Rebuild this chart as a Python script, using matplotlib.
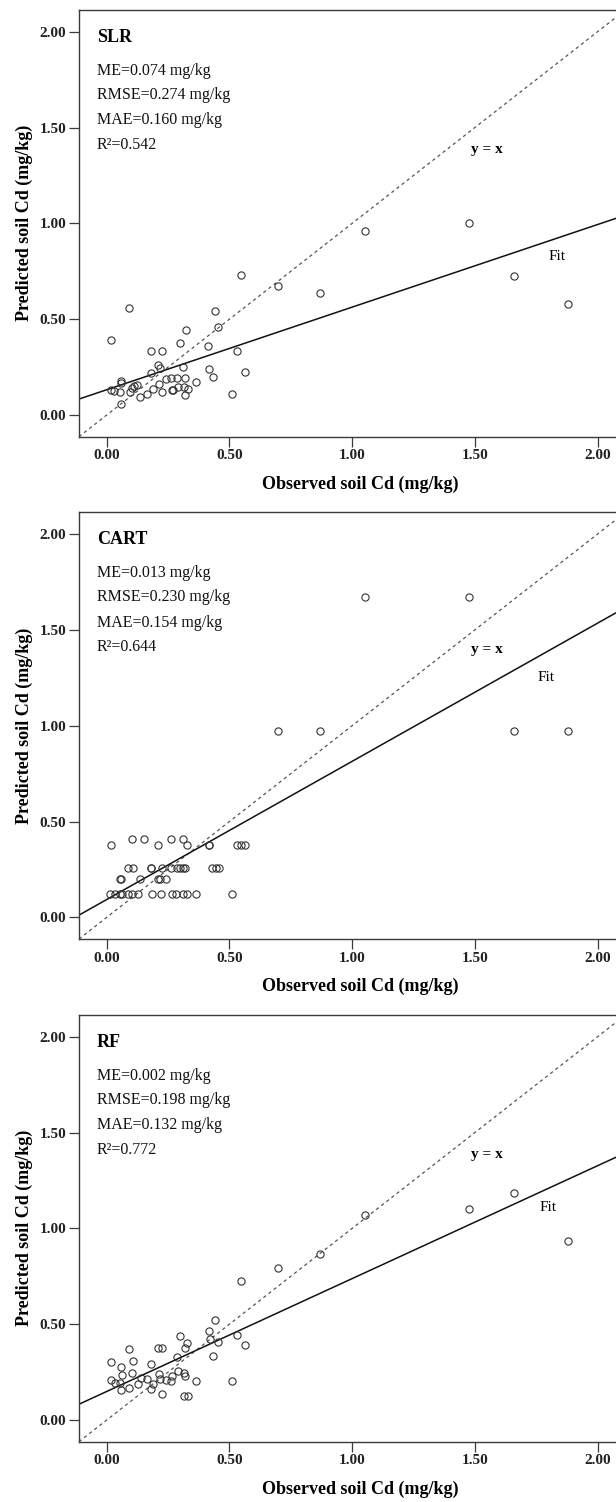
import numpy as np
import matplotlib
matplotlib.use('Agg')
import matplotlib.pyplot as plt

plt.rcParams['font.family'] = ['Liberation Serif', 'DejaVu Serif']

# model names and validation statistics
models = ['SLR', 'CART', 'RF']
me = ['0.074', '0.013', '0.002']
rmse = ['0.274', '0.230', '0.198']
mae = ['0.160', '0.154', '0.132']
r2 = ['0.542', '0.644', '0.772']

# fitted lines (intercept, slope)
fit_b = [0.132, 0.093, 0.149]
fit_m = [0.431, 0.721, 0.589]

# SLR panel
obs_slr = [0.547, 0.696, 0.091, 0.441, 0.455, 0.324, 0.018, 0.297, 0.414, 0.531,
           0.180, 0.225, 0.208, 0.217, 0.312, 0.180, 0.418, 0.433, 0.563, 0.362,
           0.240, 0.262, 0.288, 0.319, 0.213, 0.224, 0.265, 0.271, 0.292, 0.314,
           0.319, 0.333, 0.190, 0.163, 0.137, 0.509, 0.058, 0.057, 0.057, 0.054,
           0.018, 0.031, 0.095, 0.102, 0.112, 0.122, 0.869, 1.052, 1.476, 1.660,
           1.880]
pred_slr = [0.730, 0.675, 0.560, 0.543, 0.457, 0.442, 0.391, 0.376, 0.362, 0.336,
            0.334, 0.334, 0.261, 0.247, 0.252, 0.221, 0.238, 0.197, 0.224, 0.172,
            0.188, 0.191, 0.193, 0.193, 0.162, 0.120, 0.130, 0.130, 0.145, 0.148,
            0.104, 0.134, 0.136, 0.110, 0.096, 0.111, 0.057, 0.179, 0.165, 0.118,
            0.130, 0.127, 0.122, 0.139, 0.151, 0.157, 0.635, 0.961, 1.004, 0.724,
            0.578]

# CART panel
obs_cart = [0.013, 0.034, 0.054, 0.064, 0.088, 0.102, 0.126, 0.185, 0.222, 0.265,
            0.281, 0.312, 0.328, 0.362, 0.510,
            0.055, 0.057, 0.136, 0.210, 0.219, 0.240,
            0.085, 0.108, 0.180, 0.182, 0.227, 0.262, 0.285, 0.299, 0.312, 0.320,
            0.430, 0.445, 0.459,
            0.019, 0.208, 0.326, 0.415, 0.417, 0.530, 0.546, 0.563,
            0.104, 0.153, 0.260, 0.310,
            0.696, 0.869, 1.660, 1.880, 1.052, 1.476]
pred_cart = [0.12] * 15 + [0.20] * 6 + [0.26] * 13 + [0.38] * 8 + [0.41] * 4 + \
            [0.97] * 4 + [1.67] * 2

# RF panel
obs_rf = [0.019, 0.019, 0.032, 0.058, 0.062, 0.056, 0.058, 0.092, 0.092, 0.108,
          0.104, 0.126, 0.138, 0.163, 0.180, 0.187, 0.180, 0.208, 0.225, 0.214,
          0.217, 0.225, 0.240, 0.262, 0.268, 0.285, 0.290, 0.297, 0.314, 0.320,
          0.320, 0.326, 0.314, 0.330, 0.364, 0.415, 0.420, 0.432, 0.441, 0.455,
          0.530, 0.563, 0.512, 0.547, 0.696, 0.869, 1.052, 1.476, 1.660, 1.880]
pred_rf = [0.303, 0.207, 0.193, 0.278, 0.235, 0.193, 0.158, 0.369, 0.165, 0.310,
           0.245, 0.190, 0.217, 0.214, 0.292, 0.188, 0.162, 0.377, 0.377, 0.238,
           0.216, 0.136, 0.209, 0.204, 0.230, 0.330, 0.257, 0.438, 0.245, 0.230,
           0.375, 0.400, 0.125, 0.123, 0.202, 0.466, 0.424, 0.332, 0.522, 0.409,
           0.445, 0.391, 0.202, 0.727, 0.793, 0.866, 1.068, 1.103, 1.183, 0.934]

obs_all = [obs_slr, obs_cart, obs_rf]
pred_all = [pred_slr, pred_cart, pred_rf]

# label placement (data coords) for 'y = x' and 'Fit'
yx_pos = [(1.549, 1.383), (1.549, 1.397), (1.549, 1.388)]
fit_pos = [(1.836, 0.826), (1.790, 1.254), (1.800, 1.110)]

ticks = [0.0, 0.5, 1.0, 1.5, 2.0]
tick_labels = ['0.00', '0.50', '1.00', '1.50', '2.00']

fig = plt.figure(figsize=(6.16, 15.02), dpi=100)
bottoms = [0.70926, 0.37483, 0.04015]
spine_col = '#3a3a3a'

for i in range(3):
    ax = fig.add_axes([0.1282, bottoms[i], 0.8718, 0.2843])
    ax.set_xlim(-0.113, 2.075)
    ax.set_ylim(-0.113, 2.115)

    ax.axline((0, 0), slope=1, color='#555555', lw=0.9, ls=(0, (2.6, 2.6)))
    ax.axline((0, fit_b[i]), slope=fit_m[i], color='#111111', lw=1.1)
    ax.plot(obs_all[i], pred_all[i], 'o', ms=5.2, mfc='none', mec='#333333',
            mew=0.8, ls='none')

    ax.set_xticks(ticks)
    ax.set_xticklabels(tick_labels)
    ax.set_yticks(ticks)
    ax.set_yticklabels(tick_labels)
    ax.tick_params(direction='out', length=7, width=0.9, color=spine_col,
                   labelsize=11, pad=2)
    for lab in ax.get_xticklabels() + ax.get_yticklabels():
        lab.set_fontweight('bold')
        lab.set_color('#222222')
    ax.spines['right'].set_visible(False)
    for s in ['left', 'bottom', 'top']:
        ax.spines[s].set_color(spine_col)
        ax.spines[s].set_linewidth(1.0)

    ax.set_xlabel('Observed soil Cd (mg/kg)', fontsize=13, fontweight='bold')
    ax.set_ylabel('Predicted soil Cd (mg/kg)', fontsize=13, fontweight='bold')
    ax.xaxis.set_label_coords(0.523, -0.091)
    ax.yaxis.set_label_coords(-0.086, 0.5)

    ax.text(0.033, 0.9356, models[i], transform=ax.transAxes, fontsize=13,
            fontweight='bold', va='center', ha='left')
    lines = ['ME=%s mg/kg' % me[i], 'RMSE=%s mg/kg' % rmse[i],
             'MAE=%s mg/kg' % mae[i], 'R\u00b2=%s' % r2[i]]
    for txt, yy in zip(lines, [0.856, 0.800, 0.741, 0.683]):
        ax.text(0.033, yy, txt, transform=ax.transAxes, fontsize=11.5,
                va='center', ha='left', color='#111111')

    ax.text(yx_pos[i][0], yx_pos[i][1], 'y = x', fontsize=11, fontweight='bold',
            ha='center', va='center')
    ax.text(fit_pos[i][0], fit_pos[i][1], 'Fit', fontsize=11,
            ha='center', va='center')

fig.savefig('out.png', dpi=100)
